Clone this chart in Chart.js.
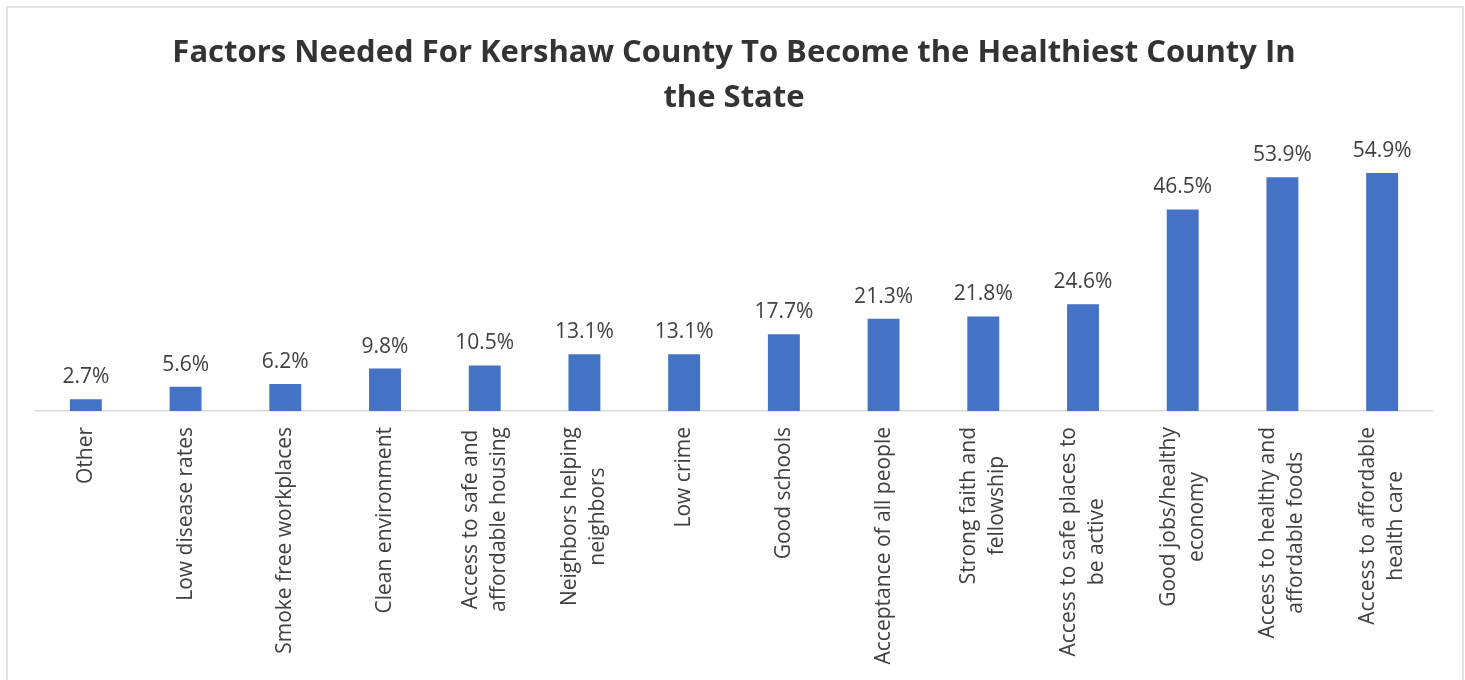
<!DOCTYPE html>
<html>
<head>
<meta charset="utf-8">
<script src="https://cdn.jsdelivr.net/npm/chart.js@4"></script>
<style>
  html, body { margin: 0; padding: 0; background: #fff; overflow: hidden; }
  #wrap { position: relative; width: 1465px; height: 680px; }
  #factors { display: block; }
  #frame {
    position: absolute; left: 6px; top: 6px; width: 1454px; height: 700px;
    border: 2px solid #e3e3e3; pointer-events: none;
  }
</style>
</head>
<body>
<div id="wrap">
  <canvas id="factors" width="1465" height="680"></canvas>
  <div id="frame"></div>
</div>
<script>
// survey answers, lowest to highest
const categories = [
  ['Other'],
  ['Low disease rates'],
  ['Smoke free workplaces'],
  ['Clean environment'],
  ['Access to safe and', 'affordable housing'],
  ['Neighbors helping', 'neighbors'],
  ['Low crime'],
  ['Good schools'],
  ['Acceptance of all people'],
  ['Strong faith and', 'fellowship'],
  ['Access to safe places to', 'be active'],
  ['Good jobs/healthy', 'economy'],
  ['Access to healthy and', 'affordable foods'],
  ['Access to affordable', 'health care']
];
const percents = [2.7, 5.6, 6.2, 9.8, 10.5, 13.1, 13.1, 17.7, 21.3, 21.8, 24.6, 46.5, 53.9, 54.9];
const titleLines = ['Factors Needed For Kershaw County To Become the Healthiest County In', 'the State'];

const textColor = '#404040';
const labelFont = '21px "Open Sans"';

// value labels above each column
const valueLabels = {
  id: 'valueLabels',
  afterDatasetsDraw(chart) {
    const ctx = chart.ctx;
    const meta = chart.getDatasetMeta(0);
    ctx.save();
    ctx.font = labelFont;
    ctx.fillStyle = textColor;
    ctx.textAlign = 'center';
    ctx.textBaseline = 'alphabetic';
    meta.data.forEach((bar, i) => {
      ctx.fillText(percents[i].toFixed(1) + '%', bar.x, bar.y - 16);
    });
    ctx.restore();
  }
};

// vertical category names, lines centred on each other
const verticalTicks = {
  id: 'verticalTicks',
  afterDraw(chart) {
    const ctx = chart.ctx;
    const xScale = chart.scales.x;
    const top = chart.chartArea.bottom + 16;
    const lineHeight = 28;
    ctx.save();
    ctx.font = labelFont;
    ctx.fillStyle = textColor;
    ctx.textAlign = 'center';
    ctx.textBaseline = 'middle';
    categories.forEach((lines, i) => {
      const x = xScale.getPixelForValue(i);
      const maxW = Math.max(...lines.map(l => ctx.measureText(l).width));
      ctx.save();
      ctx.translate(x, top + maxW / 2);
      ctx.rotate(-Math.PI / 2);
      lines.forEach((line, j) => {
        ctx.fillText(line, 0, (j - (lines.length - 1) / 2) * lineHeight);
      });
      ctx.restore();
    });
    ctx.restore();
  }
};

new Chart(document.getElementById('factors').getContext('2d'), {
  type: 'bar',
  data: {
    labels: categories.map(c => c.join(' ')),
    datasets: [{
      data: percents,
      backgroundColor: '#4472C4',
      borderWidth: 0,
      categoryPercentage: 1,
      barPercentage: 0.32
    }]
  },
  options: {
    responsive: false,
    animation: false,
    layout: { padding: { left: 36, right: 33, top: 31, bottom: 269 } },
    plugins: {
      legend: { display: false },
      tooltip: { enabled: false },
      title: {
        display: true,
        text: titleLines,
        color: '#333333',
        font: { family: 'Open Sans', size: 31, weight: 'bold', lineHeight: 1.45 },
        padding: { top: 0, bottom: 30 }
      }
    },
    scales: {
      x: {
        grid: { display: false, drawTicks: false },
        border: { display: true, color: '#d9d9d9', width: 1.5 },
        ticks: { display: false }
      },
      y: {
        display: false,
        min: 0,
        max: 60
      }
    }
  },
  plugins: [valueLabels, verticalTicks]
});
</script>
</body>
</html>
